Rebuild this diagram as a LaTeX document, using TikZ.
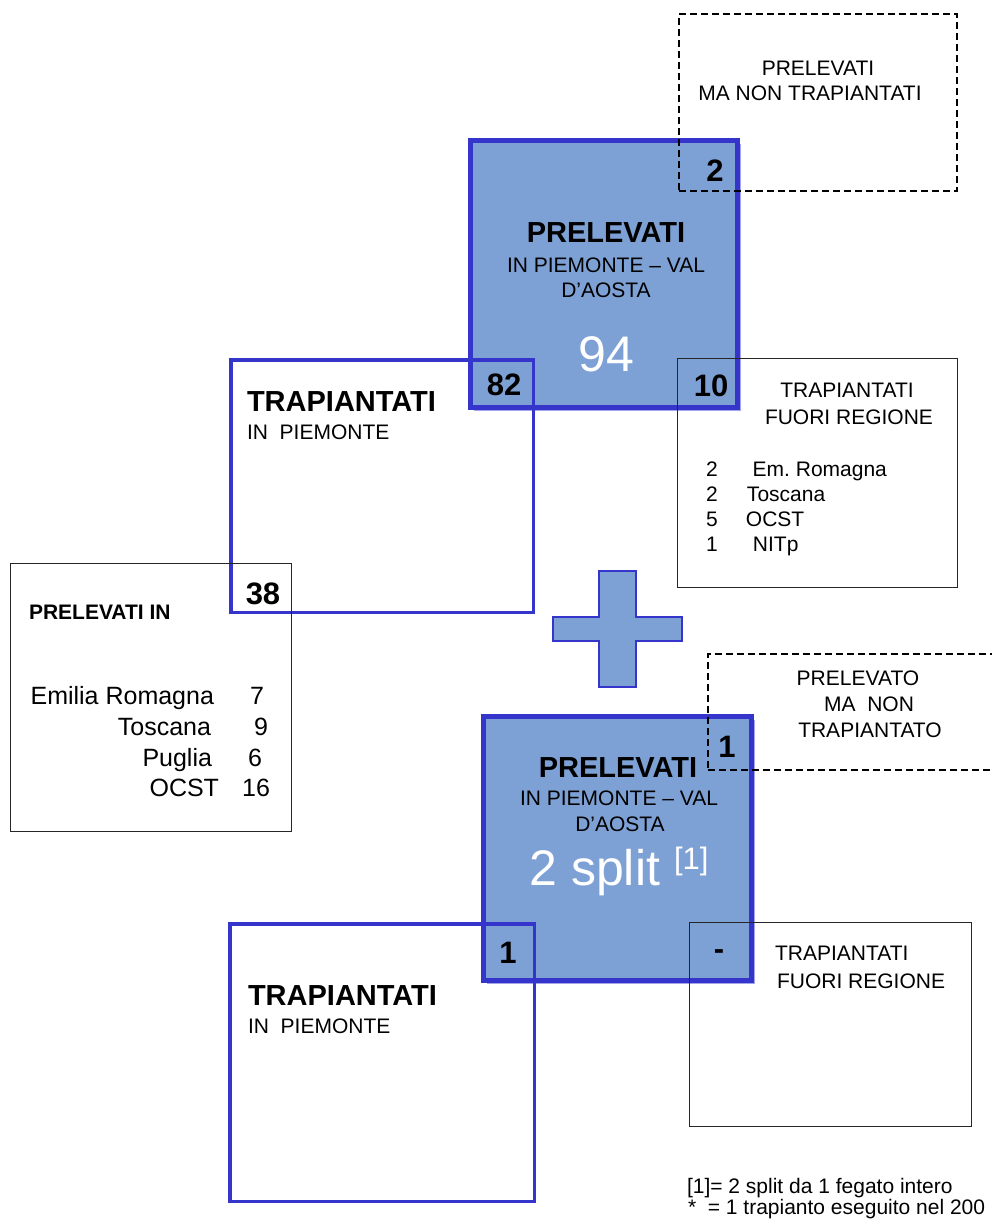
\documentclass[tikz,border=0pt]{standalone}
\usepackage{fontspec}
\setmainfont{Liberation Sans}
\usepackage{tikz}
\usetikzlibrary{shadows}
\definecolor{fillblue}{HTML}{7EA1D5}
\definecolor{edgeblue}{HTML}{3535CC}
\newcommand{\ftxt}{\fontsize{21}{25}\selectfont}
\newcommand{\flist}{\fontsize{25}{30}\selectfont}
\newcommand{\fhead}{\fontsize{29}{34}\selectfont\bfseries}
\newcommand{\fnum}{\fontsize{31}{36}\selectfont\bfseries}
\newcommand{\fbig}{\fontsize{50}{60}\selectfont}

\begin{document}
\begin{tikzpicture}[x=1pt,y=-1pt,
    every node/.style={inner sep=0pt,outer sep=0pt},
    prelbox/.style={draw=edgeblue,line width=5pt,fill=fillblue,
      drop shadow={shadow xshift=3.5pt,shadow yshift=-3.5pt,fill=edgeblue!45,opacity=1}},
    trapbox/.style={draw=edgeblue,line width=3.5pt},
    dashbox/.style={draw=black,line width=2.2pt,dash pattern=on 7pt off 4pt},
    infobox/.style={draw=black!85,line width=1.2pt},
    txt/.style={anchor=base,font=\ftxt},
    lst/.style={anchor=base east,font=\flist},
    head/.style={anchor=base,font=\fhead},
    num/.style={anchor=base,font=\fnum},
    big/.style={anchor=base,font=\fbig,text=white}]
  \path[use as bounding box,fill=white] (0,0) rectangle (991,1220);

  % first group: 94 livers
  \node[prelbox,minimum width=267pt,minimum height=267pt] (prelA) at (604,274) {};
  \node[dashbox,minimum width=278pt,minimum height=177pt] (dashA) at (818,102.5) {};
  \node[trapbox,minimum width=302.5pt,minimum height=252.5pt] (trapA) at (382,486) {};
  \node[infobox,minimum width=280pt,minimum height=229pt] (fuoriA) at (817.5,473) {};
  \node[infobox,minimum width=281pt,minimum height=268pt] (prelIn) at (151,697.5) {};

  \node[txt] (dA1) at (818,76) {PRELEVATI};
  \node[txt] (dA2) at (810,101) {MA NON TRAPIANTATI};
  \node[num] (dAn) at (715,181) {2};

  \node[head] (pA1) at (606,242) {PRELEVATI};
  \node[txt] (pA2) at (606,272) {IN PIEMONTE – VAL};
  \node[txt] (pA3) at (606,297) {D’AOSTA};
  \node[big] (pAn) at (606,371) {94};

  \node[num] (tAn) at (504,395) {82};
  \node[head,anchor=base west] (tA1) at (247,411) {TRAPIANTATI};
  \node[txt,anchor=base west] (tA2) at (247,439) {IN\ \ PIEMONTE};

  \node[num] (fAn) at (711,396) {10};
  \node[txt] (fA1) at (847,397) {TRAPIANTATI};
  \node[txt] (fA2) at (849,424) {FUORI REGIONE};
  \node[txt,anchor=base west] (fl1) at (706,476) {2\hspace{35pt}Em.\ Romagna};
  \node[txt,anchor=base west] (fl2) at (706,501) {2\hspace{29.3pt}Toscana};
  \node[txt,anchor=base west] (fl3) at (706,526) {5\hspace{28.3pt}OCST};
  \node[txt,anchor=base west] (fl4) at (706,551) {1\hspace{35.3pt}NITp};

  \node[num] (piN) at (263,604) {38};
  \node[txt,font=\ftxt\bfseries,anchor=base west] (pi0) at (29,619) {PRELEVATI IN};
  \node[lst] (pi1) at (214,704) {Emilia Romagna};
  \node[lst] (pi1n) at (264,704) {7};
  \node[lst] (pi2) at (211,735) {Toscana};
  \node[lst] (pi2n) at (268,735) {9};
  \node[lst] (pi3) at (212,766) {Puglia};
  \node[lst] (pi3n) at (262,766) {6};
  \node[lst] (pi4) at (219,796) {OCST};
  \node[lst] (pi4n) at (270,796) {16};

  % plus sign
  \draw[fill=fillblue,draw=edgeblue,line width=1.5pt]
    (599,571) -- (636,571) -- (636,617) -- (682,617) -- (682,641) -- (636,641)
    -- (636,687) -- (599,687) -- (599,641) -- (553,641) -- (553,617) -- (599,617) -- cycle;

  % second group: 2 split
  \node[prelbox,minimum width=268pt,minimum height=264pt] (prelB) at (617.5,848.5) {};
  \node[dashbox,minimum width=301pt,minimum height=116pt] (dashB) at (858.5,712) {};
  \node[trapbox,minimum width=304.5pt,minimum height=277.5pt] (trapB) at (382,1062.5) {};
  \node[infobox,minimum width=282pt,minimum height=204pt] (fuoriB) at (830.5,1024.5) {};

  \node[txt] (dB1) at (858,685) {PRELEVATO};
  \node[txt] (dB2) at (869,711) {MA\ \ NON};
  \node[txt] (dB3) at (870,737) {TRAPIANTATO};
  \node[num] (dBn) at (727,757) {1};

  \node[head] (pB1) at (618,777) {PRELEVATI};
  \node[txt] (pB2) at (619,805) {IN PIEMONTE – VAL};
  \node[txt] (pB3) at (620,831) {D’AOSTA};
  \node[big] (pBn) at (619,885) {2 split \raisebox{16pt}{\fontsize{31}{31}\selectfont[1]}};

  \node[num] (tBn) at (508,963) {1};
  \node[head,anchor=base west] (tB1) at (248,1005) {TRAPIANTATI};
  \node[txt,anchor=base west] (tB2) at (248,1033) {IN\ \ PIEMONTE};

  \node[num] (fBn) at (719,959) {-};
  \node[txt,anchor=base west] (fB1) at (775,960) {TRAPIANTATI};
  \node[txt,anchor=base west] (fB2) at (777,988) {FUORI REGIONE};

  % footnotes
  \node[txt,anchor=base west] (note1) at (687,1193) {[1]= 2 split da 1 fegato intero};
  \node[txt,anchor=base west] (note2) at (688,1214) {*\ \ = 1 trapianto eseguito nel 200};
\end{tikzpicture}
\end{document}
